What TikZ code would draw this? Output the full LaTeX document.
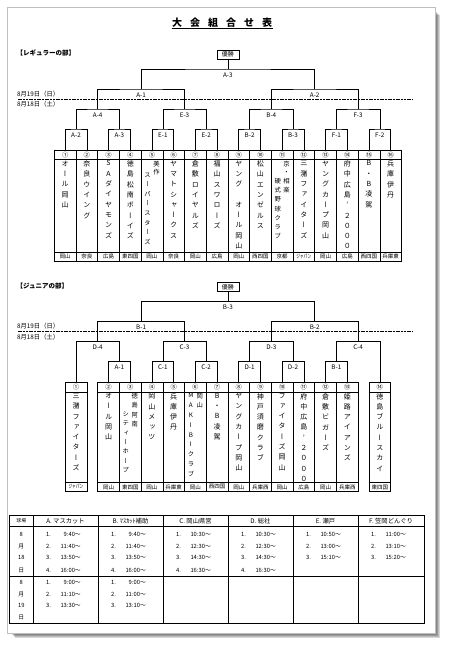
\documentclass[tikz,border=0pt]{standalone}
\usepackage{fontspec}
\usepackage{graphicx}
\setmainfont{Noto Sans CJK JP}
\newfontfamily\vertjp[RawFeature=+vert]{Noto Sans CJK JP}
\newfontfamily\horzjp{Noto Sans CJK JP}
\newcommand\japanpref{\scalebox{0.68}[1]{ジャパン}}

\begin{document}
\begin{tikzpicture}[x=1pt,y=-1pt,line cap=rect,
  bline/.style={line width=0.6pt},
  tline/.style={line width=0.5pt},
  mlbl/.style={inner sep=0pt,font=\fontsize{6.3}{7}\selectfont},
  numtxt/.style={inner sep=0pt,font=\fontsize{6.3}{7}\selectfont},
  preftxt/.style={inner sep=0pt,font=\fontsize{5.5}{6}\selectfont},
  nametxt/.style={inner sep=0pt,anchor=north,align=center,font=\vertjp\fontsize{7}{10.3}\selectfont},
  smallname/.style={inner sep=0pt,anchor=north,align=center,font=\vertjp\fontsize{6.3}{#1}\selectfont},
  datetxt/.style={inner sep=0pt,anchor=west,font=\fontsize{6.3}{7}\selectfont},
  headtxt/.style={inner sep=0pt,anchor=west,font=\bfseries\fontsize{6.5}{7}\selectfont},
  winbox/.style={draw,line width=0.7pt,minimum width=22pt,minimum height=9pt,inner sep=0pt,font=\fontsize{6}{7}\selectfont},
  cellhd/.style={inner sep=0pt,font=\fontsize{6.3}{7}\selectfont},
  celltxt/.style={inner sep=0pt,font=\fontsize{5.8}{7}\selectfont}]
\useasboundingbox (0,0) rectangle (450,649);
\foreach \s in {1,...,6}
  \fill[black,opacity=0.15] ({9+\s},{9+\s}) rectangle ({434+\s},{632+\s});
\fill[white] (7,7) rectangle (435,633);
\draw[gray!50,line width=0.4pt] (7,7) rectangle (435,633);

\node[inner sep=0pt,font=\bfseries\fontsize{10}{12}\selectfont] (title) at (222,22.7)
  {大\hspace{8pt}会\hspace{8pt}組\hspace{8pt}合\hspace{8pt}せ\hspace{8pt}表};
\draw[line width=0.6pt] ([yshift=-0.6pt]title.south west) -- ([yshift=-0.6pt]title.south east);

\node[headtxt] (regHead) at (16.5,53) {【レギュラーの部】};
\node[winbox] (rWin) at (227.9,54.5) {優勝};
\node[datetxt] (rDay2) at (17,94) {8月19日（日）};
\node[datetxt] (rDay1) at (17,104.5) {8月18日（土）};
\draw[line width=0.5pt,dash pattern=on 1.5pt off 1.2pt] (18,99) -- (413,99);

\foreach \i/\c/\pf in {1/①/岡山,2/②/奈良,3/③/広島,4/④/東四国,5/⑤/岡山,6/⑥/奈良,7/⑦/岡山,8/⑧/広島,
  9/⑨/岡山,10/⑩/西四国,11/⑪/京都,12/⑫/\japanpref,13/⑬/岡山,14/⑭/広島,15/⑮/西四国,16/⑯/兵庫東} {
  \coordinate (rT\i) at ({54.3+21.7*(\i-0.5)},150);
  \node[numtxt] (rN\i) at ({54.3+21.7*(\i-0.5)},154.75) {\c};
  \node[preftxt] (rP\i) at ({54.3+21.7*(\i-0.5)},256.5) {\pf};
}
\draw[tline] (54.3,150) rectangle (401.7,261);
\draw[tline] (54.3,159.5) -- (401.7,159.5);
\draw[tline] (54.3,252) -- (401.7,252);
\foreach \i in {1,...,15}
  \draw[tline] ({54.3+21.7*\i},150) -- ({54.3+21.7*\i},261);

\foreach \i/\nm in {1/オ\\ー\\ル\\岡\\山,2/奈\\良\\ウ\\イ\\ン\\グ,3/S\\A\\ダ\\イ\\ヤ\\モ\\ン\\ズ,
  4/徳\\島\\松\\南\\ボ\\ー\\イ\\ズ,6/ヤ\\マ\\ト\\シ\\ャ\\ー\\ク\\ス,7/倉\\敷\\ロ\\イ\\ヤ\\ル\\ズ,
  8/福\\山\\ス\\ワ\\ロ\\ー\\ズ,9/ヤ\\ン\\グ\\　\\オ\\ー\\ル\\岡\\山,10/松\\山\\エ\\ン\\ゼ\\ル\\ス,
  12/三\\潴\\フ\\ァ\\イ\\タ\\ー\\ズ,13/ヤ\\ン\\グ\\カ\\ー\\プ\\岡\\山,
  14/府\\中\\広\\島\\{\horzjp ’}\\２\\０\\０\\０,15/B\\・\\B\\凌\\駕,16/兵\\庫\\伊\\丹}
  \node[nametxt] (rNm\i) at ({54.3+21.7*(\i-0.5)},160.5) {\nm};
\node[smallname=8] (rNm5a) at (156.4,160.5) {美\\作};
\node[smallname=9.6] (rNm5b) at (147.5,172.5) {ス\\ー\\パ\\ー\\ス\\タ\\ー\\ズ};
\node[smallname=8.7] (rNm11a) at (286.6,160.5) {京\\・\\相\\楽};
\node[smallname=9.3] (rNm11b) at (277.7,177.9) {硬\\式\\野\\球\\ク\\ラ\\ブ};

\foreach \n/\x/\t in {1/76/A-2,2/119.4/A-3,3/162.8/E-1,4/206.2/E-2,5/249.6/B-2,6/293/B-3,7/336.4/F-1,8/379.8/F-2} {
  \coordinate (rM\n) at (\x,129);
  \node[mlbl] (rL\n) at (\x,135) {\t};
}
\foreach \n/\x/\t in {1/97.7/A-4,2/184.5/E-3,3/271.3/B-4,4/358.1/F-3} {
  \coordinate (rQ\n) at (\x,109);
  \node[mlbl] (rK\n) at (\x,115) {\t};
}
\foreach \n/\x/\t in {1/141.1/A-1,2/314.7/A-2} {
  \coordinate (rS\n) at (\x,89);
  \node[mlbl] (rH\n) at (\x,95) {\t};
}
\coordinate (rF) at (227.9,69);
\node[mlbl] (rFL) at (227.9,75) {A-3};
\foreach \n in {1,...,8} {
  \pgfmathtruncatemacro\a{2*\n-1}\pgfmathtruncatemacro\b{2*\n}
  \draw[bline] (rT\a) |- (rM\n) -| (rT\b);
}
\foreach \n in {1,...,4} {
  \pgfmathtruncatemacro\a{2*\n-1}\pgfmathtruncatemacro\b{2*\n}
  \draw[bline] (rM\a) |- (rQ\n) -| (rM\b);
}
\draw[bline] (rQ1) |- (rS1) -| (rQ2);
\draw[bline] (rQ3) |- (rS2) -| (rQ4);
\draw[bline] (rS1) |- (rF) -| (rS2);
\draw[bline] (rF) -- (rWin);

\node[headtxt] (junHead) at (16.5,286) {【ジュニアの部】};
\node[winbox] (jWin) at (227.9,287) {優勝};
\node[datetxt] (jDay2) at (17,326.5) {8月19日（日）};
\node[datetxt] (jDay1) at (17,337) {8月18日（土）};
\draw[line width=0.5pt,dash pattern=on 1.5pt off 1.2pt] (18,331.5) -- (413,331.5);

\foreach \i/\x/\c/\pf in {1/76/①/\japanpref,2/108.55/②/岡山,3/130.25/③/東四国,4/151.95/④/岡山,
  5/173.65/⑤/兵庫東,6/195.35/⑥/岡山,7/217.05/⑦/西四国,8/238.75/⑧/岡山,9/260.45/⑨/兵庫西,
  10/282.15/⑩/岡山,11/303.85/⑪/広島,12/325.55/⑫/岡山,13/347.25/⑬/兵庫西,14/379.8/⑭/東四国} {
  \coordinate (jT\i) at (\x,382.5);
  \node[numtxt] (jN\i) at (\x,387.25) {\c};
  \node[preftxt] (jP\i) at (\x,487) {\pf};
}
\foreach \a/\b in {65.15/86.85,97.7/358.1,368.95/390.65} {
  \draw[tline] (\a,382.5) rectangle (\b,491.5);
  \draw[tline] (\a,392) -- (\b,392);
  \draw[tline] (\a,482.5) -- (\b,482.5);
}
\foreach \i in {1,...,11}
  \draw[tline] ({97.7+21.7*\i},382.5) -- ({97.7+21.7*\i},491.5);

\foreach \i/\x/\nm in {1/76/三\\潴\\フ\\ァ\\イ\\タ\\ー\\ズ,2/108.55/オ\\ー\\ル\\岡\\山,4/151.95/岡\\山\\メ\\ッ\\ツ,
  5/173.65/兵\\庫\\伊\\丹,7/217.05/B\\・\\B\\凌\\駕,8/238.75/ヤ\\ン\\グ\\カ\\ー\\プ\\岡\\山,
  9/260.45/神\\戸\\須\\磨\\ク\\ラ\\ブ,10/282.15/フ\\ァ\\イ\\タ\\ー\\ズ\\岡\\山,
  11/303.85/府\\中\\広\\島\\{\horzjp ’}\\２\\０\\０\\０,12/325.55/倉\\敷\\ビ\\ガ\\ー\\ズ,
  13/347.25/姫\\路\\ア\\イ\\ア\\ン\\ズ,14/379.8/徳\\島\\ブ\\ル\\ー\\ス\\カ\\イ}
  \node[nametxt] (jNm\i) at (\x,393) {\nm};
\node[smallname=9.3] (jNm3a) at (134.7,393) {徳\\島\\阿\\南};
\node[smallname=9.3] (jNm3b) at (125.8,411.6) {シ\\テ\\ィ\\ー\\ホ\\ー\\プ};
\node[smallname=9.3] (jNm6a) at (199.8,393) {岡\\山};
\node[smallname=9.8] (jNm6b) at (190.9,393) {M\\A\\K\\I\\B\\I\\ク\\ラ\\ブ};

\foreach \n/\x/\t in {1/119.4/A-1,2/162.8/C-1,3/206.2/C-2,4/249.6/D-1,5/293/D-2,6/336.4/B-1} {
  \coordinate (jM\n) at (\x,361.5);
  \node[mlbl] (jL\n) at (\x,367.5) {\t};
}
\foreach \n/\x/\t in {1/97.7/D-4,2/184.5/C-3,3/271.3/D-3,4/358.1/C-4} {
  \coordinate (jQ\n) at (\x,341.5);
  \node[mlbl] (jK\n) at (\x,347.5) {\t};
}
\foreach \n/\x/\t in {1/141.1/B-1,2/314.7/B-2} {
  \coordinate (jS\n) at (\x,321.5);
  \node[mlbl] (jH\n) at (\x,327.5) {\t};
}
\coordinate (jF) at (227.9,301.5);
\node[mlbl] (jFL) at (227.9,307.5) {B-3};
\draw[bline] (jT2) |- (jM1) -| (jT3);
\draw[bline] (jT4) |- (jM2) -| (jT5);
\draw[bline] (jT6) |- (jM3) -| (jT7);
\draw[bline] (jT8) |- (jM4) -| (jT9);
\draw[bline] (jT10) |- (jM5) -| (jT11);
\draw[bline] (jT12) |- (jM6) -| (jT13);
\draw[bline] (jT1) |- (jQ1) -| (jM1);
\draw[bline] (jM2) |- (jQ2) -| (jM3);
\draw[bline] (jM4) |- (jQ3) -| (jM5);
\draw[bline] (jM6) |- (jQ4) -| (jT14);
\draw[bline] (jQ1) |- (jS1) -| (jQ2);
\draw[bline] (jQ3) |- (jS2) -| (jQ4);
\draw[bline] (jS1) |- (jF) -| (jS2);
\draw[bline] (jF) -- (jWin);

\draw[line width=0.7pt] (9.5,515.7) rectangle (424,623.5);
\draw[tline] (9.5,526) -- (424,526);
\draw[line width=1pt] (9.5,576.7) -- (424,576.7);
\foreach \x in {33,98,163,228,293,358}
  \draw[tline] (\x,515.7) -- (\x,623.5);
\node[inner sep=0pt,font=\fontsize{4.8}{6}\selectfont] (hPark) at (21.25,521) {球場};
\foreach \x/\t [count=\k] in {65.5/A. マスカット,130.5/B. ﾏｽｶｯﾄ補助,195.5/C. 岡山県営,260.5/D. 総社,325.5/E. 瀬戸,391/F. 笠岡どんぐり}
  \node[cellhd] (hd\k) at (\x,521) {\t};
\foreach \y/\t [count=\k] in {534.3/8,546/月,557.7/18,570/日}
  \node[celltxt] (dA\k) at (21.25,\y) {\t};
\foreach \y/\t [count=\k] in {582.3/8,594/月,605.7/19,617.5/日}
  \node[celltxt] (dB\k) at (21.25,\y) {\t};
\foreach \l/\y/\nn/\tt [count=\k] in {33/534.3/1/9:40,33/546/2/11:40,33/557.7/3/13:50,33/570/4/16:00,
  98/534.3/1/9:40,98/546/2/11:40,98/557.7/3/13:50,98/570/4/16:00,
  163/534.3/1/10:30,163/546/2/12:30,163/557.7/3/14:30,163/570/4/16:30,
  228/534.3/1/10:30,228/546/2/12:30,228/557.7/3/14:30,228/570/4/16:30,
  293/534.3/1/10:50,293/546/2/13:00,293/557.7/3/15:10,
  358/534.3/1/11:00,358/546/2/13:10,358/557.7/3/15:20,
  33/582.3/1/9:00,33/594/2/11:10,33/605.7/3/13:30,
  98/582.3/1/9:00,98/594/2/11:00,98/605.7/3/13:10} {
  \node[celltxt,anchor=west] (sN\k) at ({\l+13},\y) {\nn.};
  \node[celltxt,anchor=east] (sT\k) at ({\l+48},\y) {\tt～};
}
\end{tikzpicture}
\end{document}
